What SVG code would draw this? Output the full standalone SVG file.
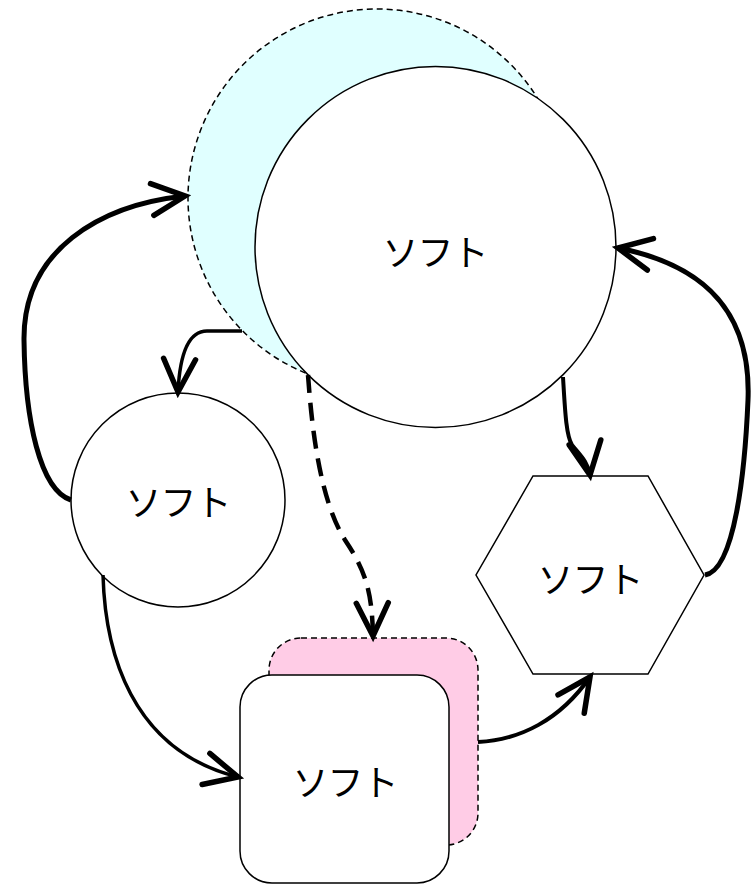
<svg xmlns="http://www.w3.org/2000/svg" width="756" height="885" viewBox="0 0 756 885">
<style>
.shape{fill:#ffffff;stroke:#000000;stroke-width:1.5}
.ghost{stroke:#000000;stroke-width:1.5;stroke-dasharray:6 4}
.lbl{font-family:"Noto Sans CJK JP","Noto Sans",sans-serif;font-size:36px;fill:#000000;text-anchor:middle;dominant-baseline:central;letter-spacing:-1px}
.edge{fill:none;stroke:#000000;stroke-linecap:butt}
.head{fill:none;stroke:#000000;stroke-width:5.5;stroke-linecap:round;stroke-linejoin:miter;stroke-dasharray:none}
</style>
<defs>
<marker id="arr" markerUnits="userSpaceOnUse" viewBox="-45 -25 50 50" markerWidth="50" markerHeight="50" refX="0" refY="0" orient="auto" overflow="visible">
<path class="head" d="M-33,-16 L0,0 L-33,16"/>
</marker>
</defs>
<rect width="756" height="885" fill="#ffffff"/>
<g id="node-top">
<circle class="ghost" cx="377" cy="198" r="189" fill="#e0ffff"/>
<circle class="shape" cx="435.5" cy="247" r="180.5"/>
<text class="lbl" x="435" y="250">ソフト</text>
</g>
<g id="node-left">
<circle class="shape" cx="178" cy="500" r="107"/>
<text class="lbl" x="178" y="500">ソフト</text>
</g>
<g id="node-hex">
<polygon class="shape" points="533,476 648,476 704,575 648,674 533,674 476,575"/>
<text class="lbl" x="590" y="577">ソフト</text>
</g>
<g id="node-rect">
<rect class="ghost" x="269" y="638" width="209" height="207" rx="32" fill="#ffcce6"/>
<rect class="shape" x="240" y="675" width="209" height="208" rx="32"/>
<text class="lbl" x="345" y="780">ソフト</text>
</g>
<g id="connectors">
<path class="edge" stroke-width="5" d="M71,500 C40,490 25,420 24,340 C23,250 100,205 185,196" marker-end="url(#arr)"/>
<path class="edge" stroke-width="3.5" d="M242,331 L207,331 C190,331 180,350 178,392" marker-end="url(#arr)"/>
<path class="edge" stroke-width="4.5" stroke-dasharray="18 10" d="M308,375 C312,430 320,500 345,540 C365,570 372,590 373,636" marker-end="url(#arr)"/>
<path class="edge" stroke-width="4" d="M563,377 C565,410 566,435 572,445 C580,455 588,462 590,475" marker-end="url(#arr)"/>
<path class="edge" stroke-width="5" d="M705,575 C735,570 745,470 748,400 C752,300 690,262 618,248" marker-end="url(#arr)"/>
<path class="edge" stroke-width="3.5" d="M103,575 C105,650 130,750 238,777" marker-end="url(#arr)"/>
<path class="edge" stroke-width="4" d="M478,742 C520,740 560,720 590,677" marker-end="url(#arr)"/>
</g>
</svg>
